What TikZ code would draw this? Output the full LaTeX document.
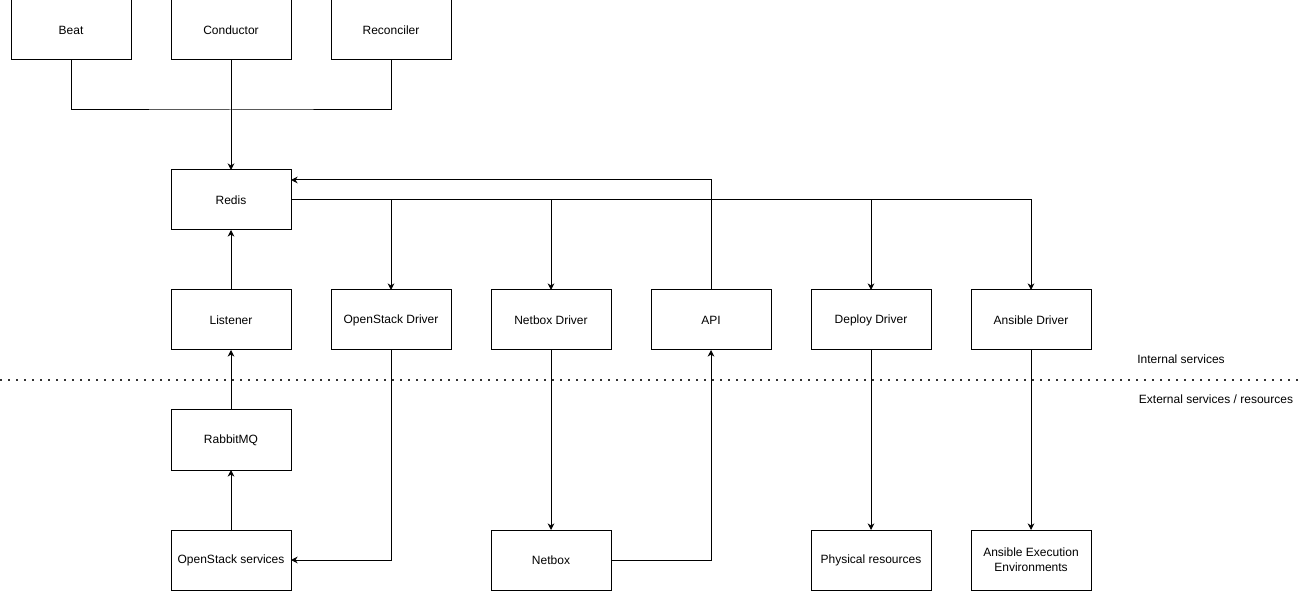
\documentclass[tikz,border=0pt]{standalone}
\usepackage{fontspec}
\setmainfont{Liberation Sans}
\usetikzlibrary{arrows.meta, positioning}

\begin{document}
\begin{tikzpicture}[
    x=0.75pt, y=-0.75pt,
    font=\fontsize{9}{11}\selectfont,
    node distance=45pt and 30pt,
    box/.style={
      draw,
      line width=0.75pt,
      align=center,
      minimum width=90pt,
      minimum height=45pt,
      inner sep=2pt,
      outer sep=0pt,
      fill=white
    },
    link/.style={
      line width=0.75pt,
      draw=black
    },
    arrow/.style={
      link,
      -{Stealth[length=5pt, width=5pt]}
    },
    divider/.style={
      line width=1.5pt,
      dash pattern=on 1.5pt off 4.5pt,
      draw=black!80
    },
    note/.style={
      align=center,
      font=\fontsize{9}{11}\selectfont
    }
  ]
  \useasboundingbox (0,0) rectangle (1303,591);

    % Scheduling services
    \node[box] (beat) at (71,30) {Beat};
    \node[box, right=of beat] (conductor) {Conductor};
    \node[box, right=of conductor] (reconciler) {Reconciler};

    % Queue
    \node[box, below=82.5pt of conductor] (redis) {Redis};

    % Internal services
    \node[box, below=of redis] (listener) {Listener};
    \node[box, right=of listener] (osdriver) {OpenStack Driver};
    \node[box, right=of osdriver] (nbdriver) {Netbox Driver};
    \node[box, right=of nbdriver] (api) {API};
    \node[box, right=of api] (deploydriver) {Deploy Driver};
    \node[box, right=of deploydriver] (ansibledriver) {Ansible Driver};

    % External services / resources
    \node[box, below=of listener] (rabbitmq) {RabbitMQ};
    \node[box, below=of rabbitmq] (osservices) {OpenStack services};
    \node[box] (netbox) at (nbdriver |- osservices) {Netbox};
    \node[box] (physical) at (deploydriver |- osservices) {Physical resources};
    \node[box] (ansibleee) at (ansibledriver |- osservices) {Ansible Execution\\Environments};

    % Boundary
    \coordinate (divleft) at (0,380);
    \coordinate (divright) at (1303,380);
    \draw[divider] (divleft) -- (divright);
    \node[note] (internal) at (1181,359) {Internal services};
    \node[note] (external) at (1216,399) {External services / resources};

    % Scheduler to Redis
    \coordinate[below=37.5pt of conductor.south] (merge);
    \draw[link] (beat.south) |- (merge) -| (reconciler.south);
    \draw[arrow] (conductor.south) -- (redis.north);

    % Redis fan-out
    \draw[arrow] (redis.east) -| (ansibledriver.north);
    \foreach \drv in {osdriver, nbdriver, deploydriver}
      \draw[arrow] (redis.east -| \drv.north) -- (\drv.north);
    \draw[arrow] (api.north) |- ([yshift=15pt]redis.east);

    % Event path
    \draw[arrow] (osservices) -- (rabbitmq);
    \draw[arrow] (rabbitmq) -- (listener);
    \draw[arrow] (listener) -- (redis);

    % Drivers to the outside
    \draw[arrow] (osdriver.south) |- (osservices.east);
    \draw[arrow] (nbdriver) -- (netbox);
    \draw[arrow] (netbox.east) -| (api.south);
    \draw[arrow] (deploydriver) -- (physical);
    \draw[arrow] (ansibledriver) -- (ansibleee);

\end{tikzpicture}
\end{document}
